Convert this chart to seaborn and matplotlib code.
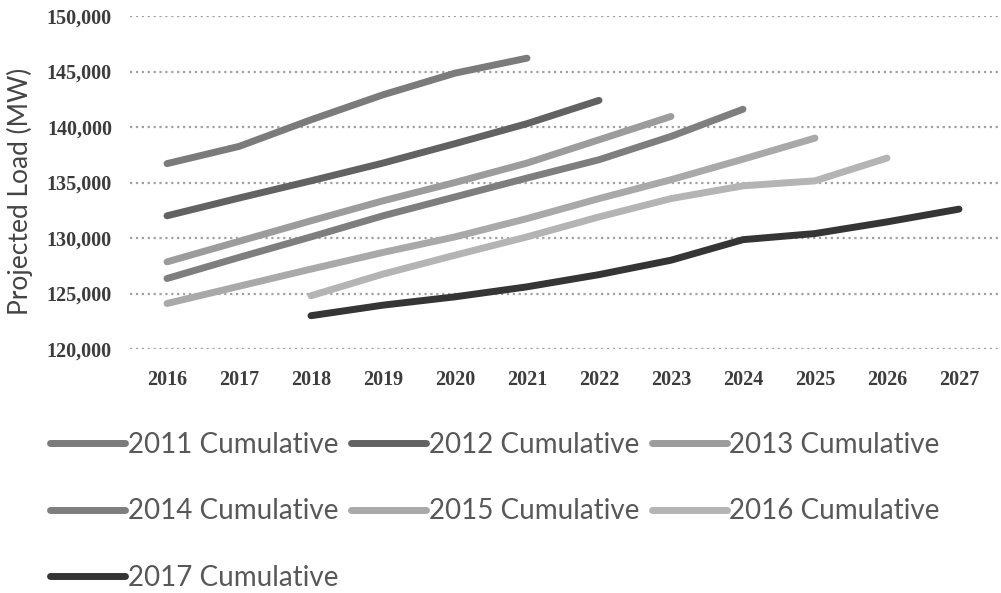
import pandas as pd
import matplotlib
matplotlib.use('Agg')
import matplotlib.pyplot as plt
import seaborn as sns
from matplotlib.ticker import FuncFormatter

# projected load per forecast vintage (MW)
series_names = ['2011 Cumulative', '2012 Cumulative', '2013 Cumulative',
                '2014 Cumulative', '2015 Cumulative', '2016 Cumulative',
                '2017 Cumulative']
start_years = [2016, 2016, 2016, 2016, 2016, 2018, 2018]

load_2011 = [136700, 138250, 140650, 142900, 144850, 146200]
load_2012 = [132000, 133600, 135150, 136750, 138500, 140300, 142400]
load_2013 = [127850, 129700, 131550, 133350, 135000, 136750, 138850, 140950]
load_2014 = [126350, 128250, 130100, 132000, 133700, 135400, 137050, 139150, 141600]
load_2015 = [124100, 125650, 127200, 128700, 130100, 131750, 133550, 135250, 137100, 139000]
load_2016 = [124800, 126750, 128450, 130100, 131900, 133550, 134700, 135150, 137200]
load_2017 = [123000, 123950, 124700, 125600, 126700, 128000, 129850, 130400, 131450, 132600]

all_loads = [load_2011, load_2012, load_2013, load_2014, load_2015, load_2016, load_2017]
colors = ['#7b7b7b', '#626262', '#9c9c9c', '#7e7e7e', '#a9a9a9', '#b4b4b4', '#353535']

rows = []
for name, start, vals in zip(series_names, start_years, all_loads):
    for i, v in enumerate(vals):
        rows.append({'year': start + i, 'load': v, 'series': name})
df = pd.DataFrame(rows)

sns.set_theme(style='white')
plt.rcParams['font.family'] = ['Lato', 'DejaVu Sans']

fig = plt.figure(figsize=(10.01, 5.93), dpi=100)
ax = fig.add_axes([130 / 1001, 1 - 349 / 593, 870 / 1001, 333 / 593])

sns.lineplot(data=df, x='year', y='load', hue='series', hue_order=series_names,
             palette=dict(zip(series_names, colors)), linewidth=5.0,
             legend=False, ax=ax, solid_capstyle='round')

ax.set_xlim(2015.486, 2027.57)
ax.set_ylim(120000, 150000)
ax.set_xticks(list(range(2016, 2028)))
ax.set_yticks(list(range(120000, 150001, 5000)))
ax.yaxis.set_major_formatter(FuncFormatter(lambda v, p: f'{int(v):,}'))
ax.grid(axis='y', linestyle=':', linewidth=1.6, color='#a0a0a0')
ax.grid(axis='x', visible=False)
for s in ax.spines.values():
    s.set_visible(False)
ax.tick_params(axis='both', length=0, labelcolor='#3c3c3c')
ax.tick_params(axis='x', pad=15)
ax.tick_params(axis='y', pad=13)
for lab in ax.get_xticklabels() + ax.get_yticklabels():
    lab.set_fontfamily('Liberation Serif')
    lab.set_fontweight('bold')
    lab.set_fontsize(14.5)
ax.set_xlabel('')
ax.set_ylabel('')

fig.text(20 / 1001, 1 - 191 / 593, 'Projected Load (MW)', rotation=90,
         ha='center', va='center', fontsize=19, color='#444444')

# legend filled row by row like the original (matplotlib fills column-wise)
lines = ax.get_lines()
order = [0, 3, 6, 1, 4, 2, 5]
fig.legend([lines[i] for i in order], [series_names[i] for i in order],
           loc='upper left', bbox_to_anchor=(50 / 1001, 1 - 432 / 593),
           ncol=3, frameon=False, fontsize=20, handlelength=2.7,
           handletextpad=0.1, columnspacing=0.45, labelspacing=1.45,
           borderpad=0, borderaxespad=0, labelcolor='#585858')

fig.savefig('out.png', dpi=100)
